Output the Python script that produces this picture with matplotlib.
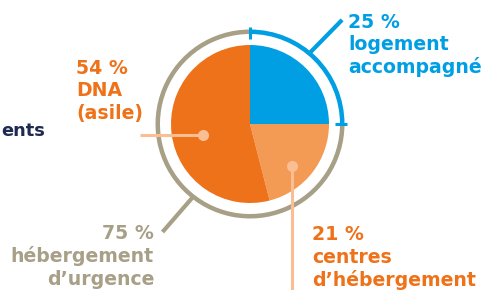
import numpy as np
import matplotlib
matplotlib.use("Agg")
import matplotlib.pyplot as plt

# data
labels = ["logement accompagné", "centres d'hébergement", "DNA (asile)"]
shares = [25, 21, 54]
ring_labels = ["logement accompagné", "hébergement d'urgence"]
ring_shares = [25, 75]

BLUE = "#009FE3"
ORANGE = "#EE7219"
LORANGE = "#F39A55"
LEADER = "#F9BE92"
GRAY = "#A89F87"
NAVY = "#1E2A50"

W, H = 487, 290
fig = plt.figure(figsize=(W / 100, H / 100), dpi=100)
ax = fig.add_axes([0, 0, 1, 1])

def Y(py):
    return H - py

cx, cy = 250, Y(124)
R = 79
Rr = 92

ax.pie(shares, colors=[BLUE, LORANGE, ORANGE], startangle=90, counterclock=False,
       center=(cx, cy), radius=R, wedgeprops=dict(linewidth=0), frame=True)
ax.pie(ring_shares, colors=[BLUE, GRAY], startangle=90, counterclock=False,
       center=(cx, cy), radius=Rr + 2.5, wedgeprops=dict(width=4.5, linewidth=0), frame=True)
ax.set_xlim(0, W)
ax.set_ylim(0, H)
ax.set_aspect("equal")
ax.axis("off")

def pol(r, a):
    t = np.deg2rad(a)
    return cx + r * np.cos(t), cy + r * np.sin(t)

# ticks at ring joints
for a in (90, 0):
    p1, p2 = pol(85, a), pol(97, a)
    ax.plot([p1[0], p2[0]], [p1[1], p2[1]], color=BLUE, lw=2.2, solid_capstyle="butt")

# leaders
p1, p2 = pol(92, 50), pol(139, 48.5)
ax.plot([p1[0], p2[0]], [p1[1], p2[1]], color=BLUE, lw=3, solid_capstyle="butt")
p1, p2 = pol(92, 232), pol(139, 231)
ax.plot([p1[0], p2[0]], [p1[1], p2[1]], color=GRAY, lw=3, solid_capstyle="butt")

# dots with lines
ax.plot([140, 203], [Y(135), Y(135)], color=LEADER, lw=2.2, solid_capstyle="butt")
ax.plot([203], [Y(135)], "o", ms=8, color=LEADER, mec="none")
ax.plot([292, 292], [Y(166), Y(292)], color=LEADER, lw=2.2, solid_capstyle="butt")
ax.plot([292], [Y(166)], "o", ms=8, color=LEADER, mec="none")

fam = ["DejaVu Sans"]
fs = 13.6

def txt(x, py, s, c, ha="left", size=fs):
    ax.text(x, Y(py), s, color=c, fontsize=size, fontweight="bold", family=fam,
            ha=ha, va="baseline")

txt(348, 28, "25 %", BLUE)
txt(348, 50.5, "logement", BLUE)
txt(348, 73, "accompagné", BLUE)

txt(76, 74, "54 %", ORANGE)
txt(76, 96.5, "DNA", ORANGE)
txt(76, 119, "(asile)", ORANGE)

txt(154, 239, "75 %", GRAY, ha="right")
txt(154, 262, "hébergement", GRAY, ha="right")
txt(154, 285, "d’urgence", GRAY, ha="right")

txt(312, 240, "21 %", ORANGE)
txt(312, 263, "centres", ORANGE)
txt(312, 286, "d’hébergement", ORANGE)

txt(1, 136.5, "ents", NAVY, size=12.8)

fig.savefig("out.png", dpi=100)
